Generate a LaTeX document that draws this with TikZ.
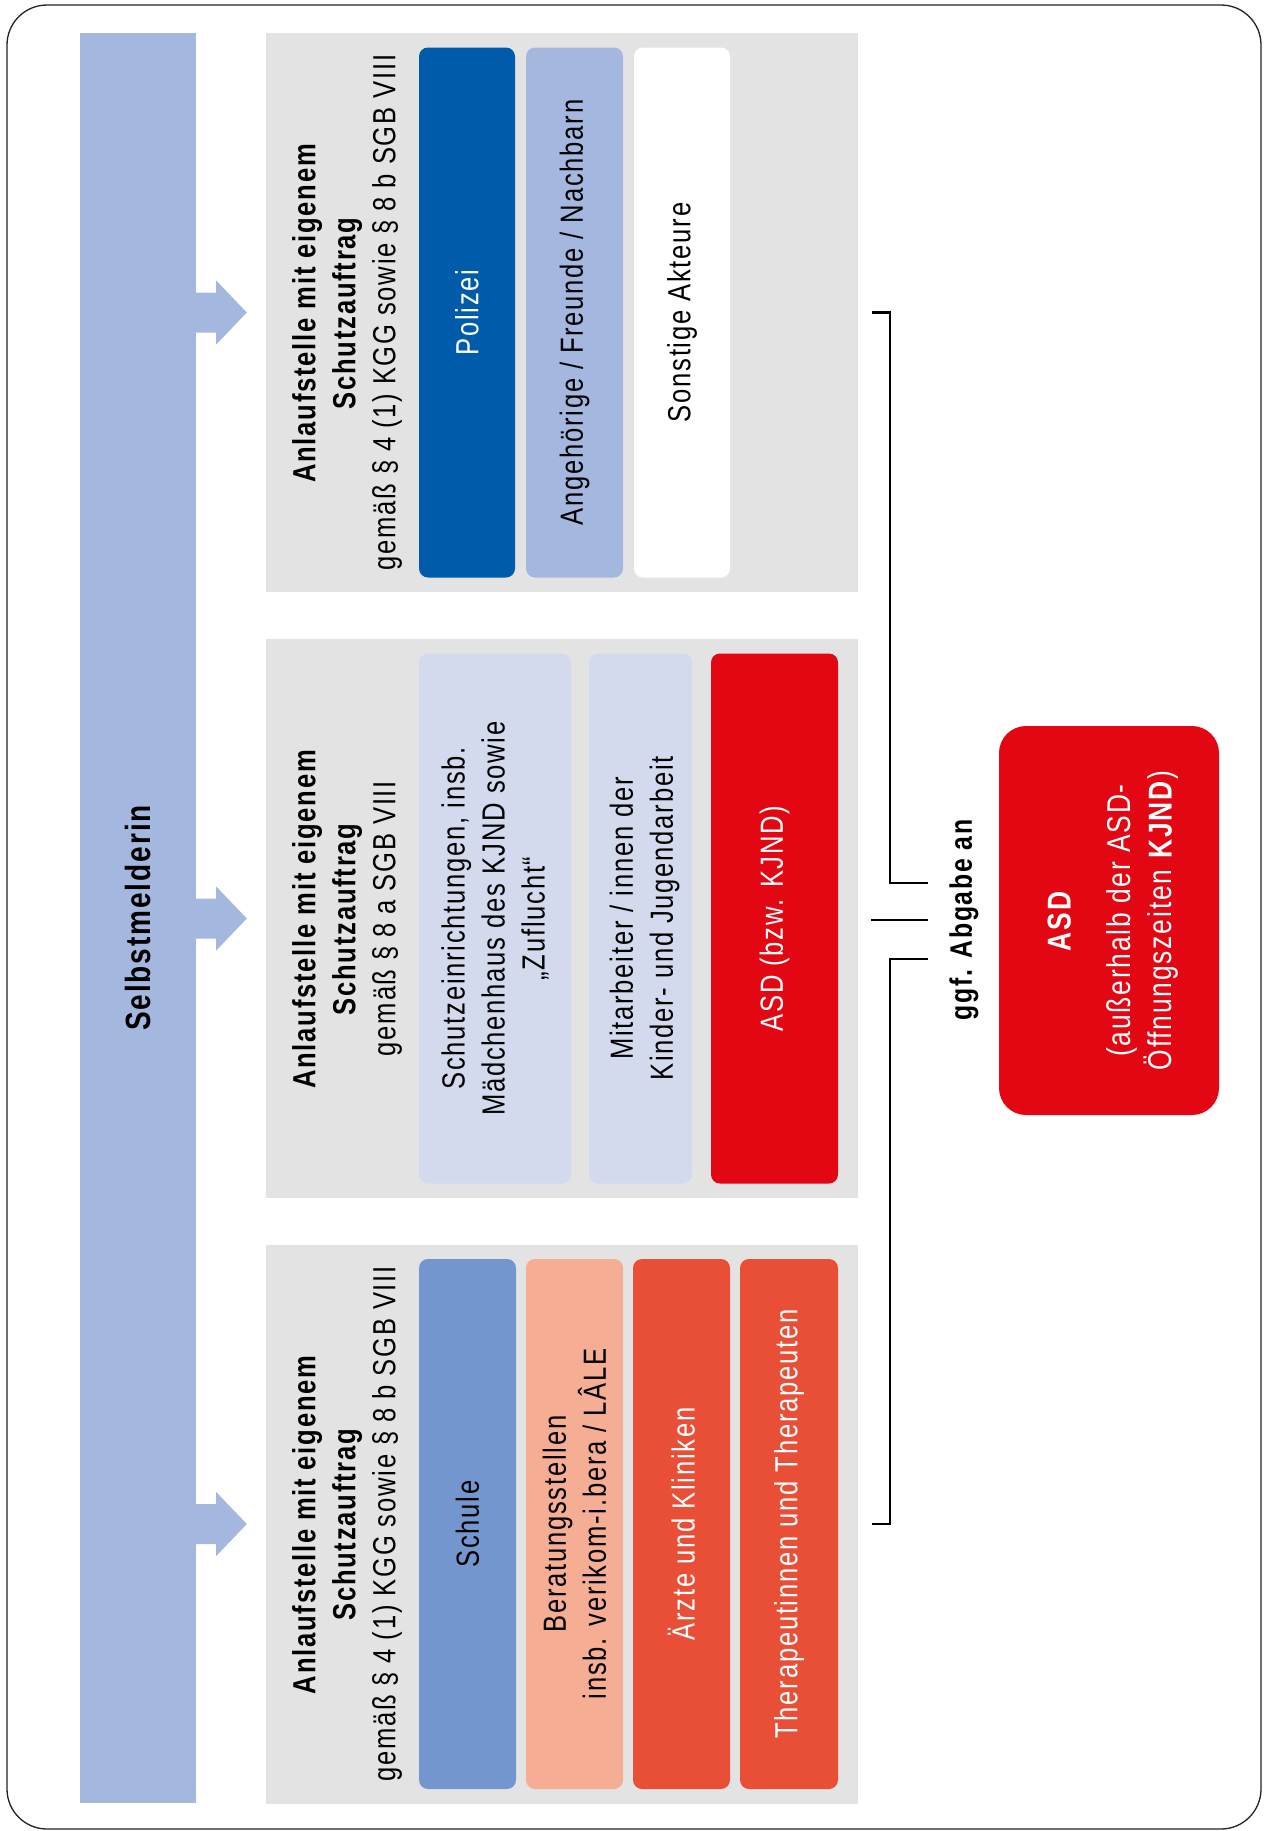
\documentclass[tikz,border=0pt]{standalone}
\usepackage{fontspec}
\setmainfont[FakeStretch=0.8,LetterSpace=5.5]{Liberation Sans}
\usetikzlibrary{calc}
\definecolor{barblue}{HTML}{A4B7DF}
\definecolor{panelgray}{HTML}{E3E3E3}
\definecolor{polblue}{HTML}{005BAA}
\definecolor{paleblue}{HTML}{D4DAEE}
\definecolor{asdred}{HTML}{E30613}
\definecolor{schulblue}{HTML}{7496CE}
\definecolor{salmon}{HTML}{F5AE93}
\definecolor{docred}{HTML}{E94F36}
\definecolor{framegray}{HTML}{222222}
\begin{document}
\begin{tikzpicture}[x=1pt,y=-1pt,
  panel/.style={fill=panelgray, draw=none, inner sep=0, minimum width=592pt, minimum height=559pt},
  cell/.style={rounded corners=9pt, draw=none, inner sep=0, minimum height=530pt},
  rot/.style={rotate=90, align=center, inner sep=0, font=\fontsize{32}{40}\selectfont},
  whitetext/.style={rot, text=white},
  bracket/.style={line width=2.7pt, draw=black},
  blockarrow/.style={fill=barblue, draw=none},
]
\useasboundingbox (0,0) rectangle (1266,1831);
% outer frame
\draw[framegray, line width=1.3pt, rounded corners=40pt] (7,5) rectangle (1261,1829);

% left bar
\node[fill=barblue, inner sep=0, minimum width=116pt, minimum height=1770pt] (bar) at (138,918) {};
\node[rot, font=\fontsize{35}{40}\selectfont\bfseries] (selbst) at (bar) {Selbstmelderin};

% panels
\node[panel] (p1) at (562,312.5) {};
\node[panel] (p2) at (562,918.5) {};
\node[panel] (p3) at (562,1524) {};

% block arrows
\foreach \p in {p1,p2,p3}{
  \fill[blockarrow] ($(bar.east |- \p.west)+(-1,-20)$) -- ++(21,0) -- ++(0,-12)
    -- ($(\p.west)+(-19,0)$) -- ($(bar.east |- \p.west)+(20,32)$) -- ++(0,-12) -- ++(-21,0) -- cycle;
}

% headers
\node[rot] (h1) at (347,312.5) {\textbf{Anlaufstelle mit eigenem}\\\textbf{Schutzauftrag}\\gemäß § 4 (1) KGG sowie § 8 b SGB VIII};
\node[rot] (h2) at (347,918.5) {\textbf{Anlaufstelle mit eigenem}\\\textbf{Schutzauftrag}\\gemäß § 8 a SGB VIII};
\node[rot] (h3) at (347,1524) {\textbf{Anlaufstelle mit eigenem}\\\textbf{Schutzauftrag}\\gemäß § 4 (1) KGG sowie § 8 b SGB VIII};

% panel 1 cells
\node[cell, fill=polblue, minimum width=96pt] (polizei) at (467,312.5) {};
\node[whitetext] (tpolizei) at (polizei) {Polizei};
\node[cell, fill=barblue, minimum width=97pt] (angeh) at (574.5,312.5) {};
\node[rot] (tangeh) at (angeh) {Angehörige / Freunde / Nachbarn};
\node[cell, fill=white, minimum width=96pt] (sonst) at (682,312.5) {};
\node[rot] (tsonst) at (sonst) {Sonstige Akteure};

% panel 2 cells
\node[cell, fill=paleblue, minimum width=152pt] (schutz) at (495,918.5) {};
\node[rot] (tschutz) at (schutz) {Schutzeinrichtungen, insb.\\Mädchenhaus des KJND sowie\\„Zuflucht“};
\node[cell, fill=paleblue, minimum width=103pt] (mitarb) at (640.5,918.5) {};
\node[rot] (tmitarb) at ($(mitarb)+(4,0)$) {Mitarbeiter / innen der\\Kinder- und Jugendarbeit};
\node[cell, fill=asdred, minimum width=127pt] (asdkjnd) at (774.5,918.5) {};
\node[whitetext] (tasdkjnd) at (asdkjnd) {ASD (bzw. KJND)};

% panel 3 cells
\node[cell, fill=schulblue, minimum width=97pt] (schule) at (467.5,1524) {};
\node[rot] (tschule) at (schule) {Schule};
\node[cell, fill=salmon, minimum width=97pt] (berat) at (574.5,1524) {};
\node[rot] (tberat) at (berat) {Beratungsstellen\\insb. verikom-i.bera / LÂLE};
\node[cell, fill=docred, minimum width=97pt] (aerzte) at (681.5,1524) {};
\node[whitetext] (taerzte) at (aerzte) {Ärzte und Kliniken};
\node[cell, fill=docred, minimum width=98pt] (therap) at (789,1524) {};
\node[whitetext] (ttherap) at (therap) {Therapeutinnen und Therapeuten};

% ASD main box
\node[fill=asdred, rounded corners=27pt, inner sep=0, minimum width=220pt, minimum height=389pt] (asdmain) at (1109,920.5) {};
\node[whitetext, font=\fontsize{33}{41}\selectfont] (tasdmain) at (1113,920.5) {\textbf{ASD}\\[19pt](außerhalb der ASD-\\Öffnungszeiten \textbf{KJND})};

% bracket
\coordinate (brk) at (890,920);
\draw[bracket] ($(p1.east)+(14,0)$) -- (brk |- p1.east) -- ($(brk)+(0,-37)$) -- ++(38,0);
\draw[bracket] ($(brk)+(-19,0)$) -- ++(57,0);
\draw[bracket] ($(brk)+(38,39)$) -- ($(brk)+(0,39)$) -- (brk |- p3.east) -- ($(p3.east)+(14,0)$);
\node[rot, font=\fontsize{31}{40}\selectfont\bfseries] (ggf) at (964,920) {ggf. Abgabe an};
\end{tikzpicture}
\end{document}
